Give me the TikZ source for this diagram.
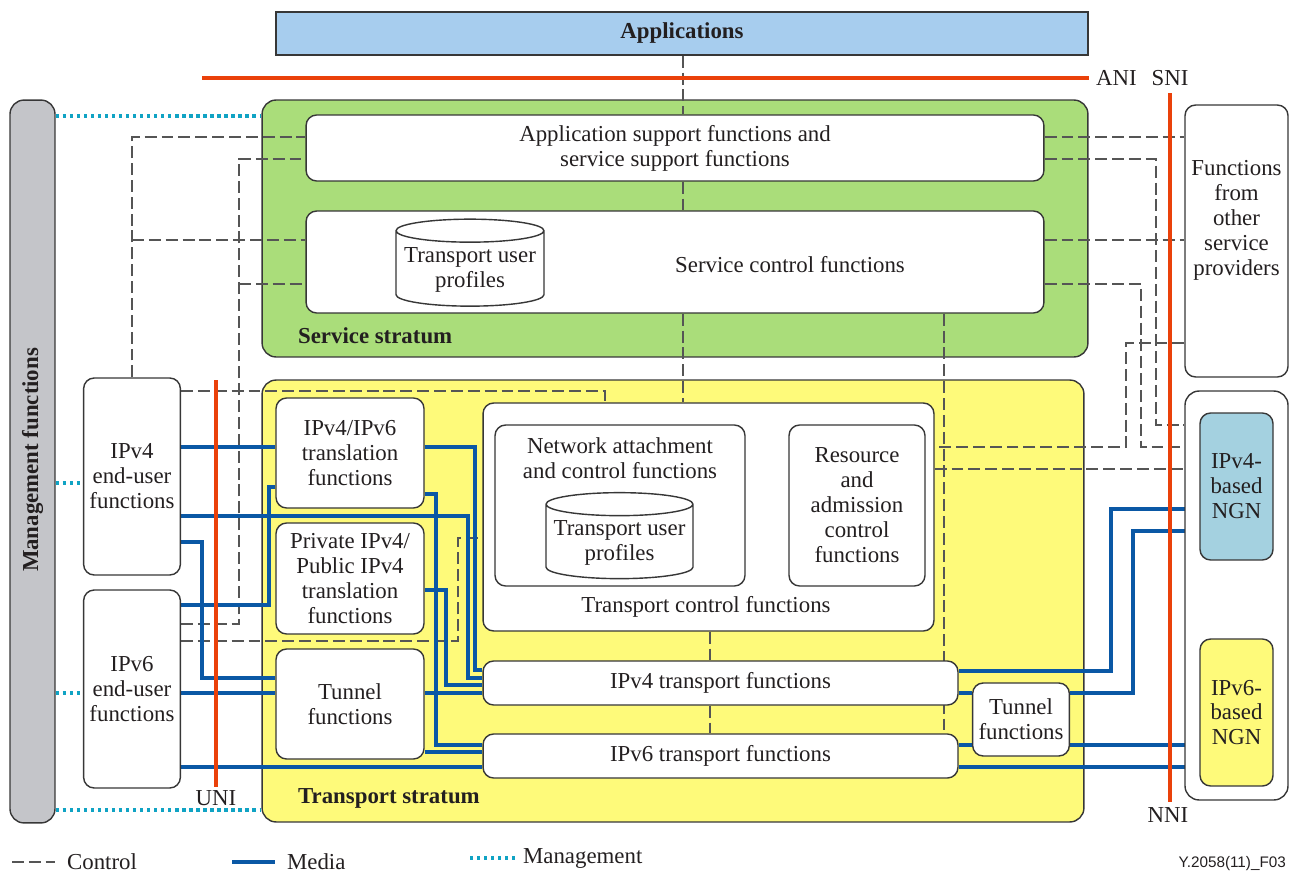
\documentclass[tikz,border=0pt]{standalone}
\usepackage{fontspec}
\setmainfont{Liberation Serif}
\setsansfont{Liberation Sans}
\usetikzlibrary{shapes.geometric}

\definecolor{edgegray}{RGB}{55,55,55}
\definecolor{txtgray}{RGB}{35,31,32}
\definecolor{appblue}{RGB}{167,205,238}
\definecolor{svgreen}{RGB}{170,221,122}
\definecolor{tpyellow}{RGB}{254,250,122}
\definecolor{mgmtgray}{RGB}{196,197,201}
\definecolor{ngnblue}{RGB}{164,209,224}
\definecolor{ifacered}{RGB}{234,65,10}
\definecolor{mediablue}{RGB}{10,88,165}
\definecolor{mgmtcyan}{RGB}{16,163,196}
\definecolor{ctrlgray}{RGB}{85,85,85}

\pgfdeclarelayer{strata}
\pgfdeclarelayer{links}
\pgfsetlayers{strata,links,main}

\begin{document}
\begin{tikzpicture}[x=0.02cm, y=-0.02cm,
        every node/.style={font=\fontsize{13}{14.2}\selectfont, text=txtgray},
        box/.style={draw=edgegray, line width=0.8pt, rounded corners=6pt, fill=white, align=center},
        stratum/.style={draw=edgegray, line width=0.8pt, rounded corners=8pt},
        db/.style={cylinder, shape border rotate=90, draw=edgegray, line width=0.8pt, fill=white, aspect=0.17, align=center, inner sep=1pt},
        lbl/.style={inner sep=1pt, align=center},
        bold/.style={font=\fontsize{13}{14.2}\selectfont\bfseries},
        media/.style={draw=mediablue, line width=1.9pt},
        ctrl/.style={draw=ctrlgray, line width=0.6pt, dash pattern=on 6.8pt off 2.8pt},
        mgmtline/.style={draw=mgmtcyan, line width=1.9pt, dash pattern=on 1.9pt off 2.1pt},
        iface/.style={draw=ifacered, line width=2.3pt}
    ]
        \useasboundingbox (0,0) rectangle (1298,875);

        % Strata and big frames
        \begin{pgfonlayer}{strata}
        \node[stratum, fill=svgreen, minimum width=16.52cm, minimum height=5.14cm] (service) at (675,228.5) {};
        \node[stratum, fill=tpyellow, minimum width=16.44cm, minimum height=8.84cm] (transport) at (673,601) {};
        \end{pgfonlayer}

        \node[draw=edgegray, line width=0.8pt, fill=appblue, bold, minimum width=16.24cm, minimum height=0.86cm] (apps) at (682,33.5) {Applications};
        \node[box, fill=mgmtgray, rounded corners=8pt, minimum width=0.9cm, minimum height=14.46cm] (mgmt) at (32.5,461.5) {};
        \node[lbl, bold, rotate=90] (mgmtlbl) at (32.5,460) {Management functions};

        % Service stratum
        \node[box, minimum width=14.76cm, minimum height=1.32cm] (asf) at (675,148) {Application support functions and\\service support functions};
        \node[box, minimum width=14.76cm, minimum height=2.04cm] (scf) at (675,262) {};
        \node[lbl] (scflbl) at (790,265) {Service control functions};
        \node[db, minimum width=2.96cm, minimum height=1.74cm] (tup1) at (470,270) {Transport user\\profiles};
        \node[lbl, bold, anchor=west] (svlbl) at (296,336) {Service stratum};

        % End-user side
        \node[box, minimum width=1.92cm, minimum height=3.94cm] (eu4) at (132,476.5) {IPv4\\end-user\\functions};
        \node[box, minimum width=1.92cm, minimum height=3.96cm] (eu6) at (132,689) {IPv6\\end-user\\functions};

        % Transport stratum
        \node[box, minimum width=2.96cm, minimum height=2.2cm] (trans) at (350,453) {IPv4/IPv6\\translation\\functions};
        \node[box, minimum width=2.96cm, minimum height=2.22cm] (nat) at (350,578.5) {Private IPv4/\\Public IPv4\\translation\\functions};
        \node[box, minimum width=2.96cm, minimum height=2.2cm] (tunl) at (350,704) {Tunnel\\functions};
        \node[box, minimum width=9.02cm, minimum height=4.56cm] (tcf) at (708.5,517) {};
        \node[lbl] (tcflbl) at (706,607) {Transport control functions};
        \node[box, minimum width=5cm, minimum height=3.22cm] (nacf) at (620,505.5) {};
        \node[lbl] (nacflbl) at (620,458) {Network attachment\\and control functions};
        \node[db, minimum width=2.94cm, minimum height=1.72cm] (tup2) at (619.5,543) {Transport user\\profiles};
        \node[box, minimum width=2.72cm, minimum height=3.22cm] (racf) at (857,505.5) {Resource\\and\\admission\\control\\functions};
        \node[box, minimum width=9.5cm, minimum height=0.88cm] (v4t) at (720.5,683) {IPv4 transport functions};
        \node[box, minimum width=9.5cm, minimum height=0.88cm] (v6t) at (720.5,756) {IPv6 transport functions};
        \node[box, minimum width=1.92cm, minimum height=1.46cm] (tunr) at (1021,719.5) {Tunnel\\functions};
        \node[lbl, bold, anchor=west] (tplbl) at (296,798) {Transport stratum};

        % Other providers and NGNs
        \node[box, minimum width=2.06cm, minimum height=5.44cm] (fosp) at (1236.5,241) {};
        \node[lbl] (fosplbl) at (1236.5,220) {Functions\\from\\other\\service\\providers};
        \node[box, rounded corners=8pt, minimum width=2.06cm, minimum height=8.18cm] (ngnbox) at (1236.5,595.5) {};
        \node[box, fill=ngnblue, minimum width=1.46cm, minimum height=2.94cm] (ngn4) at (1236.5,486.5) {IPv4-\\based\\NGN};
        \node[box, fill=tpyellow, minimum width=1.46cm, minimum height=2.94cm] (ngn6) at (1236.5,712.5) {IPv6-\\based\\NGN};

        % Interfaces
        \node[lbl] (ani) at (1116.5,78) {ANI};
        \node[lbl] (sni) at (1170,78) {SNI};
        \node[lbl] (uni) at (216,798) {UNI};
        \node[lbl] (nni) at (1168,815) {NNI};
        \coordinate (aniL) at (202,78);
        \coordinate (uniT) at (216,380);

        % Legend
        \node[lbl, anchor=west] (lgctrl) at (65,862) {Control};
        \node[lbl, anchor=west] (lgmedia) at (285,862) {Media};
        \node[lbl, anchor=west] (lgmgmt) at (521,858) {Management};
        \node[lbl, anchor=east, font=\sffamily\fontsize{8.7}{10}\selectfont] (figid) at (1288,864) {Y.2058(11)\_F03};

        \begin{pgfonlayer}{links}
        % Control
        \draw[ctrl] (683,0 |- apps.south) -- (683,0 |- asf.north);
        \draw[ctrl] (683,0 |- asf.south) -- (683,0 |- scf.north);
        \draw[ctrl] (683,0 |- scf.south) -- (683,0 |- tcf.north);
        \draw[ctrl] (eu4.north) |- (asf.west |- 0,137);
        \draw[ctrl] (eu4.north |- 0,240) -- (scf.west |- 0,240);
        \draw[ctrl] (eu6.east |- 0,624) -| (239,159) -- (asf.west |- 0,159);
        \draw[ctrl] (239,284) -- (scf.west |- 0,284);
        \draw[ctrl] (eu4.east |- 0,391) -| (tcf.north -| 605,0);
        \draw[ctrl] (eu6.east |- 0,641) -| (458,538) -- (tcf.west |- 0,538);
        \draw[ctrl] (asf.east |- 0,137) -- (fosp.west |- 0,137);
        \draw[ctrl] (asf.east |- 0,159) -| (1156,425) -- (ngnbox.west |- 0,425);
        \draw[ctrl] (scf.east |- 0,240) -- (fosp.west |- 0,240);
        \draw[ctrl] (scf.east |- 0,284) -| (1141,447) -- (ngnbox.west |- 0,447);
        \draw[ctrl] (fosp.west |- 0,343) -| (1126,447) -- (tcf.east |- 0,447);
        \draw[ctrl] (tcf.east |- 0,469) -- (ngnbox.west |- 0,469);
        \draw[ctrl] (944,0 |- scf.south) -- (944,0 |- v6t.north);
        \draw[ctrl] (710,0 |- tcf.south) -- (710,0 |- v4t.north);
        \draw[ctrl] (710,0 |- v4t.south) -- (710,0 |- v6t.north);
        \draw[ctrl] (nacf.east) -- (racf.west);
        \draw[ctrl] ([xshift=-1.06cm]lgctrl.west) -- ([xshift=-0.2cm]lgctrl.west);

        % Media
        \draw[media] (eu4.east |- 0,447) -- (trans.west |- 0,447);
        \draw[media] (trans.east |- 0,447) -| (475,670) -- (v4t.west |- 0,670);
        \draw[media] (trans.east |- 0,494) -| (436,745) -- (v6t.west |- 0,745);
        \draw[media] (trans.west |- 0,487) -| (269,605) -- (eu6.east |- 0,605);
        \draw[media] (eu4.east |- 0,516) -| (468,678) -- (v4t.west |- 0,678);
        \draw[media] (eu4.east |- 0,542) -| (202,678) -- (tunl.west |- 0,678);
        \draw[media] (nat.east |- 0,590) -| (446,685) -- (v4t.west |- 0,685);
        \draw[media] (eu6.east |- 0,693) -- (tunl.west |- 0,693);
        \draw[media] (tunl.east |- 0,693) -- (v4t.west |- 0,693);
        \draw[media] (tunl.east |- 0,752) -- (v6t.west |- 0,752);
        \draw[media] (eu6.east |- 0,767) -- (v6t.west |- 0,767);
        \draw[media] (v4t.east |- 0,671) -| (1111,509) -- (ngn4.west |- 0,509);
        \draw[media] (v4t.east |- 0,693) -- (tunr.west |- 0,693);
        \draw[media] (tunr.east |- 0,693) -| (1133,531) -- (ngn4.west |- 0,531);
        \draw[media] (v6t.east |- 0,745) -- (tunr.west |- 0,745);
        \draw[media] (tunr.east |- 0,745) -- (ngn6.west |- 0,745);
        \draw[media] (v6t.east |- 0,767) -- (ngn6.west |- 0,767);
        \draw[media] ([xshift=-1.06cm]lgmedia.west) -- ([xshift=-0.2cm]lgmedia.west);

        % Management
        \draw[mgmtline] (mgmt.east |- 0,116) -- (service.west |- 0,116);
        \draw[mgmtline] (mgmt.east |- 0,483) -- (eu4.west |- 0,483);
        \draw[mgmtline] (mgmt.east |- 0,693) -- (eu6.west |- 0,693);
        \draw[mgmtline] (mgmt.east |- 0,810) -- (transport.west |- 0,810);
        \draw[mgmtline] ([xshift=-1.02cm]lgmgmt.west) -- ([xshift=-0.12cm]lgmgmt.west);

        % Interfaces
        \draw[iface, shorten >=3pt] (aniL) -- (ani.west);
        \draw[iface, shorten <=3pt, shorten >=2pt] (sni.south) -- (sni.south |- nni.north);
        \draw[iface, shorten >=1pt] (uniT) -- (uni.north);
        \end{pgfonlayer}
    \end{tikzpicture}
\end{document}
